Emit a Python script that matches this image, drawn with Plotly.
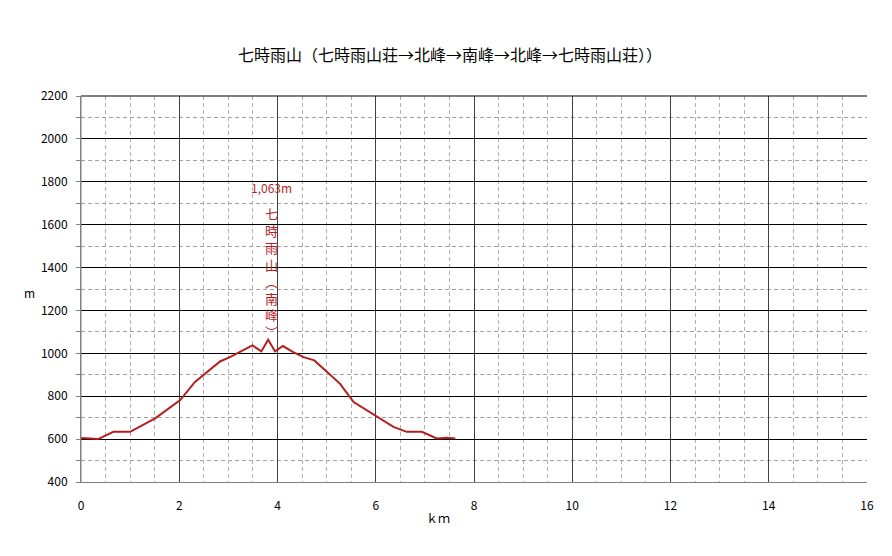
"""Elevation profile: 七時雨山 round trip."""

import plotly.graph_objects as go

# distance (km) and elevation (m) read from the profile
dist_km = [0.0, 0.35, 0.66, 1.0, 1.51, 2.02, 2.32, 2.53, 2.83, 3.03, 3.27, 3.49,
           3.67, 3.81, 3.95, 4.11, 4.32, 4.53, 4.75, 5.0, 5.27, 5.55, 6.02, 6.36,
           6.63, 6.94, 7.24, 7.45, 7.62]
elev_m = [605, 600, 634, 634, 697, 782, 867, 906, 962, 982, 1010, 1037,
          1009, 1063, 1009, 1034, 1006, 982, 967, 913, 859, 773, 704, 657,
          634, 634, 603, 606, 603]

peak_km = 3.81
peak_m = 1063
peak_label = "1,063m"
peak_name = "七<br>時<br>雨<br>山<br>︵<br>南<br>峰<br>︶"

title = "七時雨山（七時雨山荘→北峰→南峰→北峰→七時雨山荘））"

RED = "#b41e1e"
FONT = "Noto Sans CJK JP"

fig = go.Figure()
fig.add_trace(
    go.Scatter(
        x=dist_km,
        y=elev_m,
        mode="lines",
        line=dict(color=RED, width=2),
        hoverinfo="x+y",
        showlegend=False,
    )
)

fig.add_annotation(
    x=3.87, y=1775, text=peak_label, showarrow=False,
    font=dict(family=FONT, size=12, color=RED), yanchor="middle",
)
fig.add_annotation(
    x=3.87, y=1708, text=peak_name, showarrow=False,
    font=dict(family=FONT, size=13, color=RED), yanchor="top",
    align="center",
)

# page body adds an 8px offset, so the figure is 8px smaller than the window
fig.update_layout(
    width=884,
    height=548,
    paper_bgcolor="white",
    plot_bgcolor="white",
    font=dict(family=FONT, size=12, color="black"),
    title=dict(text=title, x=0.5, xanchor="center", y=0.914, yanchor="middle",
               font=dict(size=16)),
    margin=dict(l=73, r=25, t=88, b=74),
)

fig.update_xaxes(
    range=[0, 16],
    dtick=2,
    automargin=False,
    showgrid=True,
    gridcolor="#404040",
    gridwidth=1,
    zeroline=False,
    showline=True,
    linecolor="#808080",
    ticks="",
    ticklabelstandoff=13,
    minor=dict(dtick=0.5, showgrid=True, gridcolor="#b0b0b0", griddash="4px,3px"),
)
fig.update_yaxes(
    range=[400, 2200],
    dtick=200,
    automargin=False,
    showgrid=True,
    gridcolor="black",
    gridwidth=1,
    zeroline=False,
    showline=True,
    linecolor="#808080",
    ticks="outside",
    ticklen=4,
    tickcolor="#808080",
    ticklabelstandoff=6,
    minor=dict(dtick=100, showgrid=True, gridcolor="#a0a0a0", griddash="4px,3px",
               ticks="outside", ticklen=4, tickcolor="#808080"),
)

# axis titles placed as in the reference
fig.add_annotation(
    xref="paper", yref="paper", x=-0.065, y=0.49, text="m", showarrow=False,
    xanchor="center", yanchor="middle", font=dict(size=12),
)
fig.add_annotation(
    xref="paper", yref="paper", x=0.454, y=-0.093, text="ｋｍ", showarrow=False,
    xanchor="center", yanchor="middle", font=dict(size=12),
)
# top and left borders of the plot frame
fig.add_shape(type="line", xref="paper", yref="paper", x0=0, x1=1, y0=1, y1=1,
              line=dict(color="black", width=1))
fig.add_shape(type="line", xref="paper", yref="paper", x0=0, x1=0, y0=0, y1=1,
              line=dict(color="#808080", width=1))

fig.write_html("out.html")
